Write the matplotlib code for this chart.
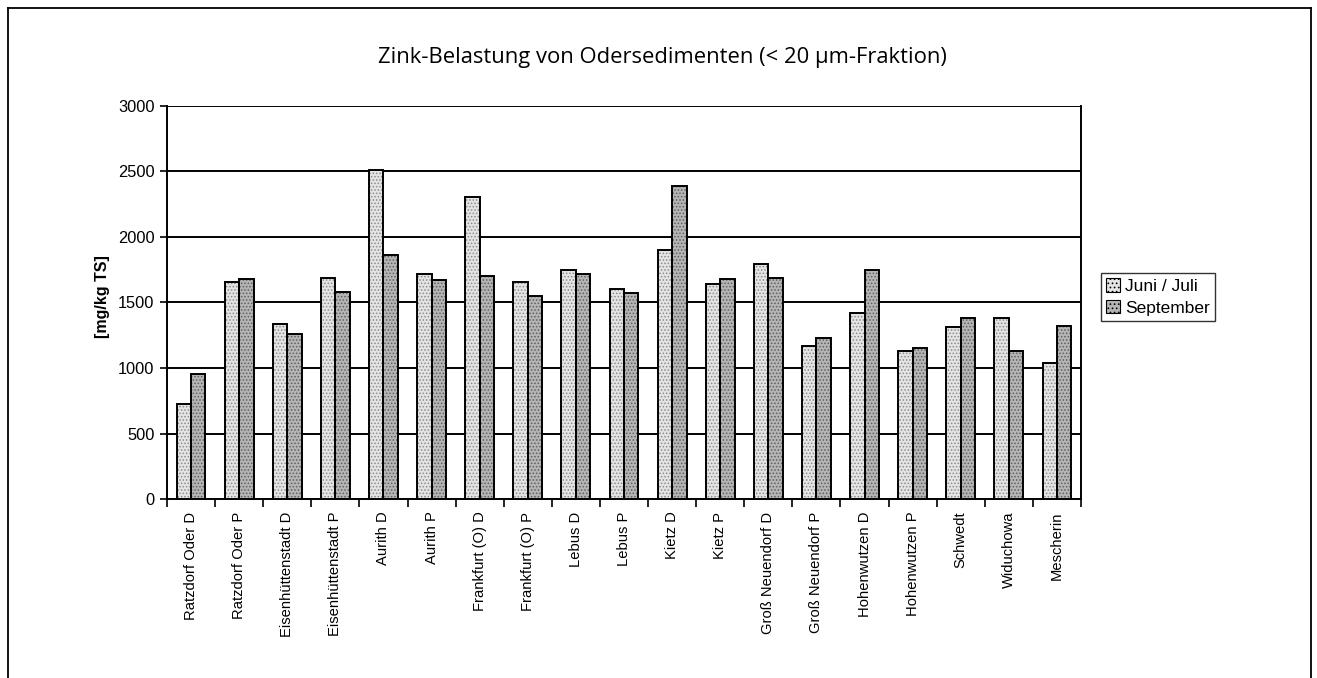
import matplotlib
matplotlib.use("Agg")
import matplotlib.pyplot as plt
import numpy as np
from matplotlib.patches import Patch
from matplotlib.lines import Line2D

categories = ["Ratzdorf Oder D", "Ratzdorf Oder P", "Eisenhüttenstadt D", "Eisenhüttenstadt P",
              "Aurith D", "Aurith P", "Frankfurt (O) D", "Frankfurt (O) P", "Lebus D", "Lebus P",
              "Kietz D", "Kietz P", "Groß Neuendorf D", "Groß Neuendorf P", "Hohenwutzen D",
              "Hohenwutzen P", "Schwedt", "Widuchowa", "Mescherin"]
juni_juli = [725, 1660, 1335, 1690, 2515, 1720, 2305, 1660, 1750, 1600,
             1900, 1640, 1790, 1170, 1420, 1130, 1310, 1380, 1040]
september = [955, 1680, 1260, 1580, 1860, 1670, 1705, 1550, 1720, 1570,
             2390, 1680, 1690, 1230, 1750, 1150, 1380, 1130, 1320]
series_names = ["Juni / Juli", "September"]
yticks = [0, 500, 1000, 1500, 2000, 2500, 3000]
title = "Zink-Belastung von Odersedimenten (< 20 µm-Fraktion)"
ylabel = "[mg/kg TS]"

plt.rcParams['font.family'] = ['Liberation Sans', 'DejaVu Sans']
plt.rcParams['hatch.linewidth'] = 0.7

fig = plt.figure(figsize=(13.17, 6.78), dpi=100)
ax = fig.add_axes([0.1268, 0.264, 0.8208 - 0.1268, 0.8437 - 0.264])

x = np.arange(len(categories))
w = 0.3
fills = ['#e4e4e4', '#b5b5b5']
hatchcols = ['#8a8a8a', '#5e5e5e']
for i, (vals, fc, hc) in enumerate(zip([juni_juli, september], fills, hatchcols)):
    pos = x - w / 2 + i * w
    ax.bar(pos, vals, width=w, color=fc, edgecolor=hc, hatch='.....', linewidth=0, zorder=3)
    ax.bar(pos, vals, width=w, fill=False, edgecolor='black', linewidth=1.4, zorder=4)

ax.set_ylim(0, 3000)
ax.set_xlim(-0.5, len(categories) - 0.5)
ax.set_yticks(yticks)
ax.set_yticklabels([str(v) for v in yticks], fontsize=11.8)
for v in yticks[1:]:
    ax.axhline(v, color='black', linewidth=1.4, zorder=1)

ax.set_xticks(x)
ax.set_xticklabels(categories, rotation=90, fontsize=10.6)
ax.tick_params(axis='x', length=0, pad=9)
ax.set_xticks(np.arange(-0.5, len(categories), 1.0), minor=True)
ax.tick_params(axis='x', which='minor', length=6, width=1.2, direction='out')
ax.tick_params(axis='y', length=5, width=1.2, direction='out', pad=4)

for s in ['left', 'bottom', 'right', 'top']:
    ax.spines[s].set_linewidth(1.4)
ax.spines['top'].set_visible(False)

ax.set_ylabel(ylabel, fontsize=11.5, fontweight='bold')
ax.yaxis.set_label_coords(-0.062, 0.515)

fig.text(0.503, 0.915, title, ha='center', va='center', fontsize=15.8, fontweight='medium',
         family=['Open Sans', 'DejaVu Sans'])

handles = [Patch(facecolor=fills[0], edgecolor='black', hatch='....', linewidth=0.8),
           Patch(facecolor=fills[1], edgecolor='black', hatch='....', linewidth=0.8)]
leg = fig.legend(handles, series_names, loc='upper left', bbox_to_anchor=(0.836, 0.597),
                 fontsize=12.5, frameon=True, fancybox=False, edgecolor='black',
                 handlelength=0.8, handleheight=0.8, handletextpad=0.3,
                 borderpad=0.3, labelspacing=0.35, borderaxespad=0)
leg.get_frame().set_linewidth(1.0)

# outer frame
fig.add_artist(Line2D([0.006, 0.006], [0.0, 0.988], color='black', linewidth=1.3, transform=fig.transFigure))
fig.add_artist(Line2D([0.006, 0.9955], [0.988, 0.988], color='black', linewidth=1.3, transform=fig.transFigure))
fig.add_artist(Line2D([0.9955, 0.9955], [0.0, 0.988], color='black', linewidth=1.3, transform=fig.transFigure))

fig.savefig("out.png", dpi=100)
